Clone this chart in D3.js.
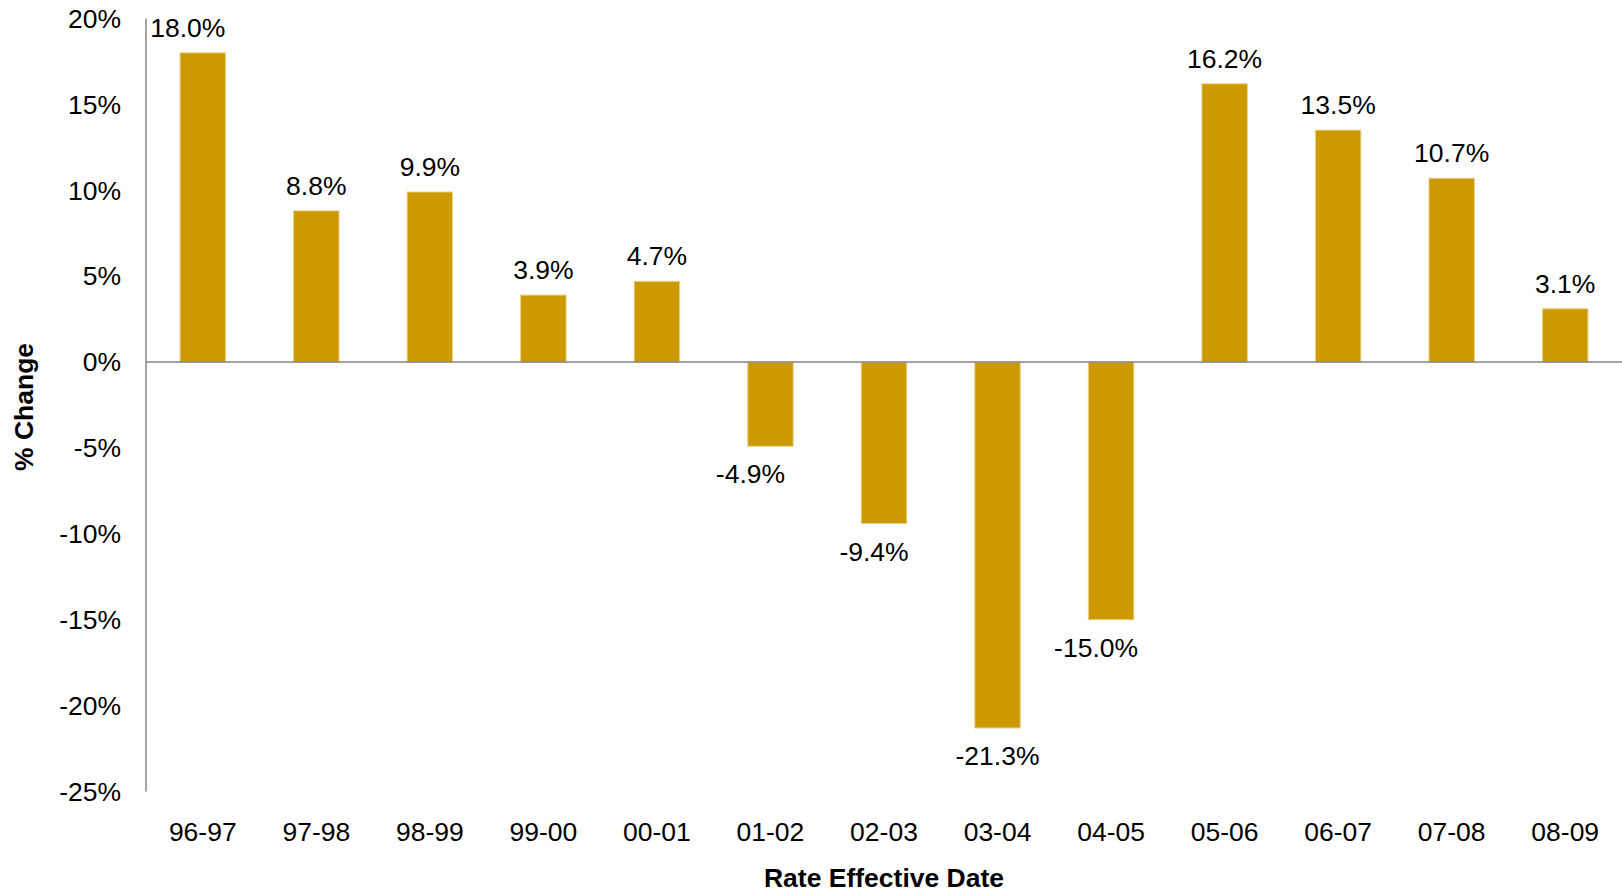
<!DOCTYPE html>
<html>
<head>
<meta charset="utf-8">
<script src="https://cdn.jsdelivr.net/npm/d3@7"></script>
<style>
  body { margin: 0; background: #fff; }
  svg { display: block; font-family: Arial, "Liberation Sans", sans-serif; }
</style>
</head>
<body>
<div id="chart"></div>
<script>
// data
const periods = ['96-97', '97-98', '98-99', '99-00', '00-01', '01-02', '02-03', '03-04', '04-05', '05-06', '06-07', '07-08', '08-09'];
const changes = [18.0, 8.8, 9.9, 3.9, 4.7, -4.9, -9.4, -21.3, -15.0, 16.2, 13.5, 10.7, 3.1];
const yTicks = [20, 15, 10, 5, 0, -5, -10, -15, -20, -25];

const width = 1622, height = 894;
const margin = { left: 146, right: 0, top: 18, bottom: 102 };
const fontSize = 26.5;

// small horizontal nudges of value labels, as in the original
const labelDx = { '96-97': -15, '01-02': -20, '02-03': -10, '04-05': -15 };

const svg = d3.select('#chart')
    .append('svg')
    .attr('width', width)
    .attr('height', height);

const x = d3.scaleBand()
    .domain(periods)
    .range([margin.left, width - margin.right])
    .paddingInner(0.6)
    .paddingOuter(0.3);

const y = d3.scaleLinear()
    .domain([-25, 20])
    .range([height - margin.bottom - 0.5, margin.top + 0.5]);

const data = periods.map((p, i) => ({ period: p, value: changes[i] }));

// y axis labels
svg.append('g')
    .selectAll('text')
    .data(yTicks)
    .join('text')
    .attr('x', 121)
    .attr('y', d => y(d))
    .attr('dy', '0.35em')
    .attr('text-anchor', 'end')
    .attr('font-size', fontSize)
    .attr('fill', '#000')
    .text(d => d + '%');

// bars
svg.append('g')
    .selectAll('rect')
    .data(data)
    .join('rect')
    .attr('x', d => x(d.period))
    .attr('width', x.bandwidth())
    .attr('y', d => y(Math.max(0, d.value)))
    .attr('height', d => Math.abs(y(d.value) - y(0)))
    .attr('fill', '#cc9900')
    .attr('stroke', '#e9cf85')
    .attr('stroke-width', 1);

// axis lines
svg.append('line')
    .attr('x1', x.range()[0]).attr('x2', x.range()[0])
    .attr('y1', y(20)).attr('y2', y(-25))
    .attr('stroke', '#858585').attr('stroke-width', 1.5);

svg.append('line')
    .attr('x1', x.range()[0]).attr('x2', width)
    .attr('y1', y(0)).attr('y2', y(0))
    .attr('stroke', '#858585').attr('stroke-width', 1.5);

// value labels
svg.append('g')
    .selectAll('text')
    .data(data)
    .join('text')
    .attr('x', d => x(d.period) + x.bandwidth() / 2 + (labelDx[d.period] || 0))
    .attr('y', d => d.value >= 0 ? y(d.value) - 16 : y(d.value) + 37)
    .attr('text-anchor', 'middle')
    .attr('font-size', fontSize)
    .attr('fill', '#000')
    .text(d => d.value.toFixed(1) + '%');

// category labels
svg.append('g')
    .selectAll('text')
    .data(periods)
    .join('text')
    .attr('x', d => x(d) + x.bandwidth() / 2)
    .attr('y', 841)
    .attr('text-anchor', 'middle')
    .attr('font-size', fontSize)
    .attr('fill', '#000')
    .text(d => d);

// axis titles
svg.append('text')
    .attr('x', (x.range()[0] + width) / 2)
    .attr('y', 887)
    .attr('text-anchor', 'middle')
    .attr('font-size', fontSize)
    .attr('font-weight', 'bold')
    .text('Rate Effective Date');

svg.append('text')
    .attr('transform', `translate(33,${407}) rotate(-90)`)
    .attr('text-anchor', 'middle')
    .attr('font-size', fontSize)
    .attr('font-weight', 'bold')
    .text('% Change');
</script>
</body>
</html>
